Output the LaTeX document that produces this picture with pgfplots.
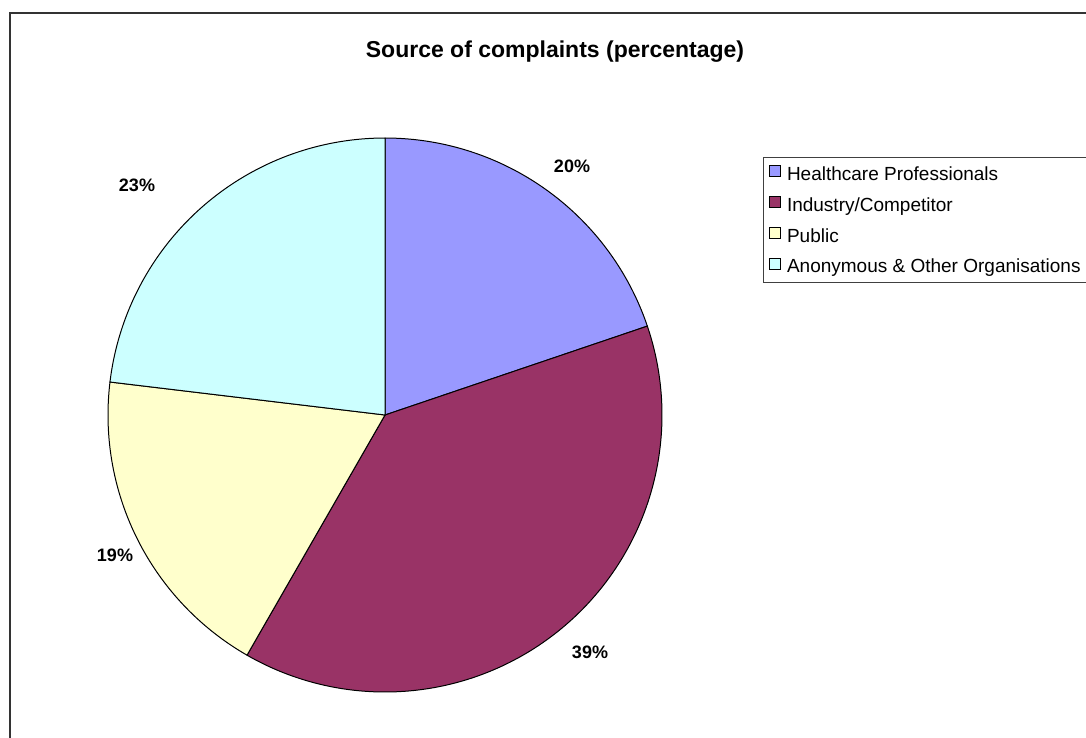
\documentclass[border=0pt]{standalone}
\usepackage{pgfplots}
\usepackage{pgfplotstable}
\pgfplotsset{compat=1.18}
\usepackage{fontspec}
\setmainfont{Liberation Sans}
\definecolor{hc}{HTML}{9999FF}
\definecolor{ind}{HTML}{993366}
\definecolor{pub}{HTML}{FFFFCC}
\definecolor{anon}{HTML}{CCFFFF}
\pgfplotstableread{
source value
HC 19.8
IC 38.5
PU 18.6
AN 23.1
}\piedata
\begin{document}
\begin{tikzpicture}
\pgfplotstablegetelem{0}{value}\of\piedata \let\va\pgfplotsretval
\pgfplotstablegetelem{1}{value}\of\piedata \let\vb\pgfplotsretval
\pgfplotstablegetelem{2}{value}\of\piedata \let\vc\pgfplotsretval
\pgfplotstablegetelem{3}{value}\of\piedata \let\vd\pgfplotsretval
\pgfmathsetmacro{\aA}{90}
\pgfmathsetmacro{\aB}{\aA-3.6*\va}
\pgfmathsetmacro{\aC}{\aB-3.6*\vb}
\pgfmathsetmacro{\aD}{\aC-3.6*\vc}
\pgfmathsetmacro{\aE}{\aD-3.6*\vd}
\begin{axis}[at={(0,0)}, anchor=south west, scale only axis,
  width=1086pt, height=738pt, xmin=0, xmax=1086, ymin=0, ymax=738,
  y dir=reverse, hide axis, clip=false,
  legend image code/.code={\draw[#1,draw=black,line width=0.6pt] (0pt,-1pt) rectangle (11pt,10pt); \path (16pt,0pt);},
  legend style={at={(axis cs:769,165)}, anchor=north west, draw=none, fill=none,
    font=\fontsize{19}{23}\selectfont, inner xsep=0pt, inner ysep=0pt,
    row sep=10.5pt,
    nodes={inner sep=1pt, text height=14pt, text depth=4pt}},
  legend cell align=left]
\addplot[fill=hc, draw=black, line width=1pt, domain=\aB:\aA, samples=120, variable=\t]
  ({385+277*cos(\t)},{415-277*sin(\t)}) -- (axis cs:385,415) -- cycle;
\addlegendentry{Healthcare Professionals}
\addplot[fill=ind, draw=black, line width=1pt, domain=\aC:\aB, samples=160, variable=\t]
  ({385+277*cos(\t)},{415-277*sin(\t)}) -- (axis cs:385,415) -- cycle;
\addlegendentry{Industry/Competitor}
\addplot[fill=pub, draw=black, line width=1pt, domain=\aD:\aC, samples=120, variable=\t]
  ({385+277*cos(\t)},{415-277*sin(\t)}) -- (axis cs:385,415) -- cycle;
\addlegendentry{Public}
\addplot[fill=anon, draw=black, line width=1pt, domain=\aE:\aD, samples=120, variable=\t]
  ({385+277*cos(\t)},{415-277*sin(\t)}) -- (axis cs:385,415) -- cycle;
\addlegendentry{Anonymous \& Other Organisations}
\node[anchor=base, font=\bfseries\fontsize{23}{27}\selectfont] at (axis cs:555,58) {Source of complaints (percentage)};
\node[anchor=base, font=\bfseries\fontsize{18}{22}\selectfont] at (axis cs:572,172) {20\%};
\node[anchor=base, font=\bfseries\fontsize{18}{22}\selectfont] at (axis cs:590,658) {39\%};
\node[anchor=base, font=\bfseries\fontsize{18}{22}\selectfont] at (axis cs:115,561) {19\%};
\node[anchor=base, font=\bfseries\fontsize{18}{22}\selectfont] at (axis cs:137,191) {23\%};
\draw[line width=1.5pt, black!80] (axis cs:10,13) rectangle (axis cs:1120,770);
\draw[line width=1pt, black!75] (axis cs:763,158) rectangle (axis cs:1120,282);
\end{axis}
\pgfresetboundingbox
\useasboundingbox (0,0) rectangle (1086pt,738pt);
\end{tikzpicture}
\end{document}
